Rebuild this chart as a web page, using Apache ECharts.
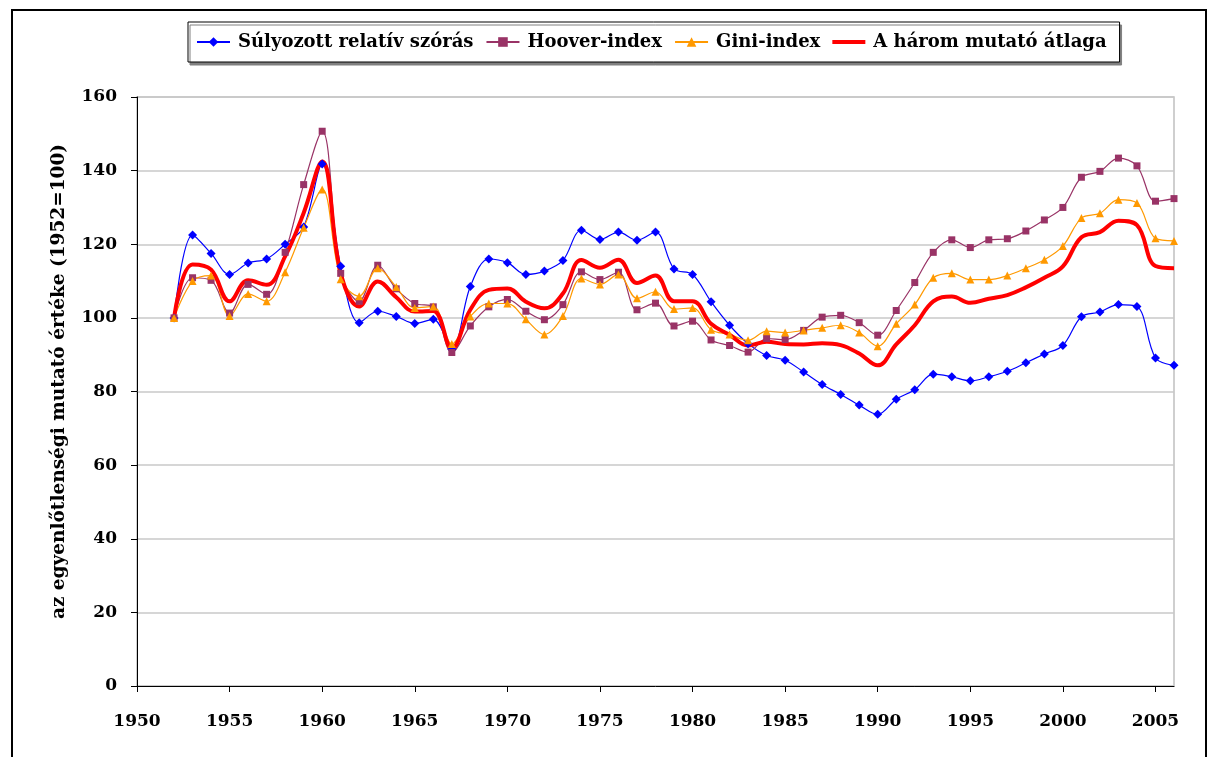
<!DOCTYPE html>
<html>
<head>
<meta charset="utf-8">
<script src="https://cdn.jsdelivr.net/npm/echarts@6/dist/echarts.min.js"></script>
<style>
html,body{margin:0;padding:0;background:#fff;}
#chart{width:1209px;height:757px;}
</style>
</head>
<body>
<div id="chart"></div>
<script>
const years = [];
for (let y = 1952; y <= 2006; y++) years.push(y);

const xTickLabels = [1950, 1955, 1960, 1965, 1970, 1975, 1980, 1985, 1990, 1995, 2000, 2005];

const seriesNames = ['Súlyozott relatív szórás', 'Hoover-index', 'Gini-index', 'A három mutató átlaga'];

const sulyozott = [
  100, 122.5, 117.5, 111.8, 114.9, 116, 120, 124.7, 141.8, 114,
  98.7, 101.8, 100.4, 98.5, 99.6, 91.5, 108.5, 116, 115, 111.8,
  112.7, 115.6, 123.8, 121.3, 123.3, 121.1, 123.3, 113.3, 111.8, 104.4,
  98, 93, 89.8, 88.5, 85.3, 81.9, 79.2, 76.3, 73.8, 77.9,
  80.5, 84.7, 84, 82.9, 84, 85.5, 87.8, 90.2, 92.5, 100.3,
  101.6, 103.6, 103.1, 89.1, 87.1
];
const hoover = [
  100, 110.9, 110.2, 101.3, 109.1, 106.4, 117.8, 136.2, 150.7, 112.1,
  104.5, 114.3, 107.9, 103.9, 103, 90.6, 97.8, 103, 105, 101.8,
  99.5, 103.6, 112.5, 110.4, 112.4, 102.2, 104, 97.8, 99.1, 94,
  92.5, 90.7, 94.4, 94.1, 96.6, 100.2, 100.7, 98.7, 95.3, 102,
  109.6, 117.8, 121.2, 119.1, 121.2, 121.5, 123.6, 126.6, 130, 138.2,
  139.8, 143.4, 141.3, 131.7, 132.4
];
const gini = [
  100, 110, 111.5, 100.5, 106.5, 104.5, 112.4, 124.5, 134.9, 110.5,
  105.9, 113.5, 108.4, 102.7, 103.1, 92.9, 100.4, 103.9, 103.9, 99.6,
  95.5, 100.5, 110.7, 109.1, 111.8, 105.3, 107.1, 102.4, 102.7, 96.8,
  95.5, 93.9, 96.4, 96, 96.6, 97.3, 98, 96, 92.3, 98.4,
  103.6, 110.9, 112.1, 110.4, 110.4, 111.5, 113.5, 115.8, 119.5, 127.1,
  128.4, 132.1, 131.2, 121.6, 120.9
];
const atlag = [
  100, 114.5, 113.1, 104.5, 110.2, 109, 116.7, 128.5, 142.5, 112.2,
  103.1, 109.9, 105.6, 101.7, 101.9, 91.7, 102.2, 107.6, 108, 104.4,
  102.6, 106.6, 115.7, 113.6, 115.8, 109.5, 111.5, 104.5, 104.5, 98.4,
  95.4, 92.5, 93.5, 92.9, 92.8, 93.1, 92.6, 90.3, 87.1, 92.8,
  98, 104.5, 105.8, 104.1, 105.2, 106.2, 108.3, 110.9, 114, 121.9,
  123.3, 126.4, 125.2, 114.1, 113.5
];

const pairs = arr => years.map((y, i) => [y, arr[i]]);
const FONT = 'DejaVu Serif';

const chart = echarts.init(document.getElementById('chart'), null, {renderer: 'canvas'});
chart.setOption({
  animation: false,
  backgroundColor: '#fff',
  graphic: [{
    type: 'rect',
    shape: {x: 12, y: 10, width: 1194, height: 770},
    style: {fill: 'none', stroke: '#000', lineWidth: 2},
    silent: true
  }],
  legend: {
    left: 188,
    top: 22,
    orient: 'horizontal',
    backgroundColor: '#fff',
    borderColor: '#000',
    borderWidth: 1,
    shadowColor: '#808080',
    shadowBlur: 0,
    shadowOffsetX: 2,
    shadowOffsetY: 3,
    padding: [11, 13, 11, 8],
    itemGap: 12,
    itemWidth: 33,
    itemHeight: 12,
    symbolKeepAspect: true,
    textStyle: {fontFamily: FONT, fontWeight: 'bold', fontSize: 18, color: '#000', padding: [0, 0, 0, 3]},
    data: [
      {name: seriesNames[0]},
      {name: seriesNames[1]},
      {name: seriesNames[2]},
      {name: seriesNames[3], icon: 'path://M0,0 L33,0 L33,4 L0,4 Z'}
    ]
  },
  grid: {left: 137, right: 35, top: 97, bottom: 71, show: true, borderColor: '#c0c0c0', borderWidth: 1.5, backgroundColor: 'transparent'},
  xAxis: {
    type: 'value',
    min: 1950,
    max: 2006,
    interval: 5,
    splitLine: {show: false},
    axisLine: {show: true, onZero: false, lineStyle: {color: '#000', width: 1}},
    axisTick: {show: true, inside: false, length: 6, customValues: xTickLabels, lineStyle: {color: '#000'}},
    axisLabel: {customValues: xTickLabels, margin: 27, fontFamily: FONT, fontWeight: 'bold', fontSize: 17, color: '#000', formatter: v => String(v)}
  },
  yAxis: {
    type: 'value',
    min: 0,
    max: 160,
    interval: 20,
    name: 'az egyenlőtlenségi mutató értéke (1952=100)',
    nameLocation: 'middle',
    nameGap: 68,
    nameTextStyle: {fontFamily: FONT, fontWeight: 'bold', fontSize: 18.5, color: '#000', padding: [0, 0, 0, 20]},
    splitLine: {show: true, lineStyle: {color: '#c8c8c8', width: 1.5}},
    axisLine: {show: true, lineStyle: {color: '#000', width: 1}},
    axisTick: {show: true, inside: false, length: 6, lineStyle: {color: '#000'}},
    axisLabel: {margin: 20, fontFamily: FONT, fontWeight: 'bold', fontSize: 17, color: '#000'}
  },
  series: [
    {
      name: seriesNames[0], type: 'line', data: pairs(sulyozott), smooth: 0.35,
      symbol: 'diamond', symbolSize: 9, showAllSymbol: true,
      lineStyle: {color: '#0000ff', width: 1.2}, itemStyle: {color: '#0000ff', borderWidth: 0}
    },
    {
      name: seriesNames[1], type: 'line', data: pairs(hoover), smooth: 0.35,
      symbol: 'rect', symbolSize: 7, showAllSymbol: true,
      lineStyle: {color: '#993366', width: 1.2}, itemStyle: {color: '#993366', borderWidth: 0}
    },
    {
      name: seriesNames[2], type: 'line', data: pairs(gini), smooth: 0.35,
      symbol: 'triangle', symbolSize: 8, showAllSymbol: true,
      lineStyle: {color: '#ff9900', width: 1.2}, itemStyle: {color: '#ff9900', borderWidth: 0}
    },
    {
      name: seriesNames[3], type: 'line', data: pairs(atlag), smooth: 0.4,
      symbol: 'none', showSymbol: false,
      lineStyle: {color: '#ff0000', width: 4}, itemStyle: {color: '#ff0000'}
    }
  ]
});
</script>
</body>
</html>
